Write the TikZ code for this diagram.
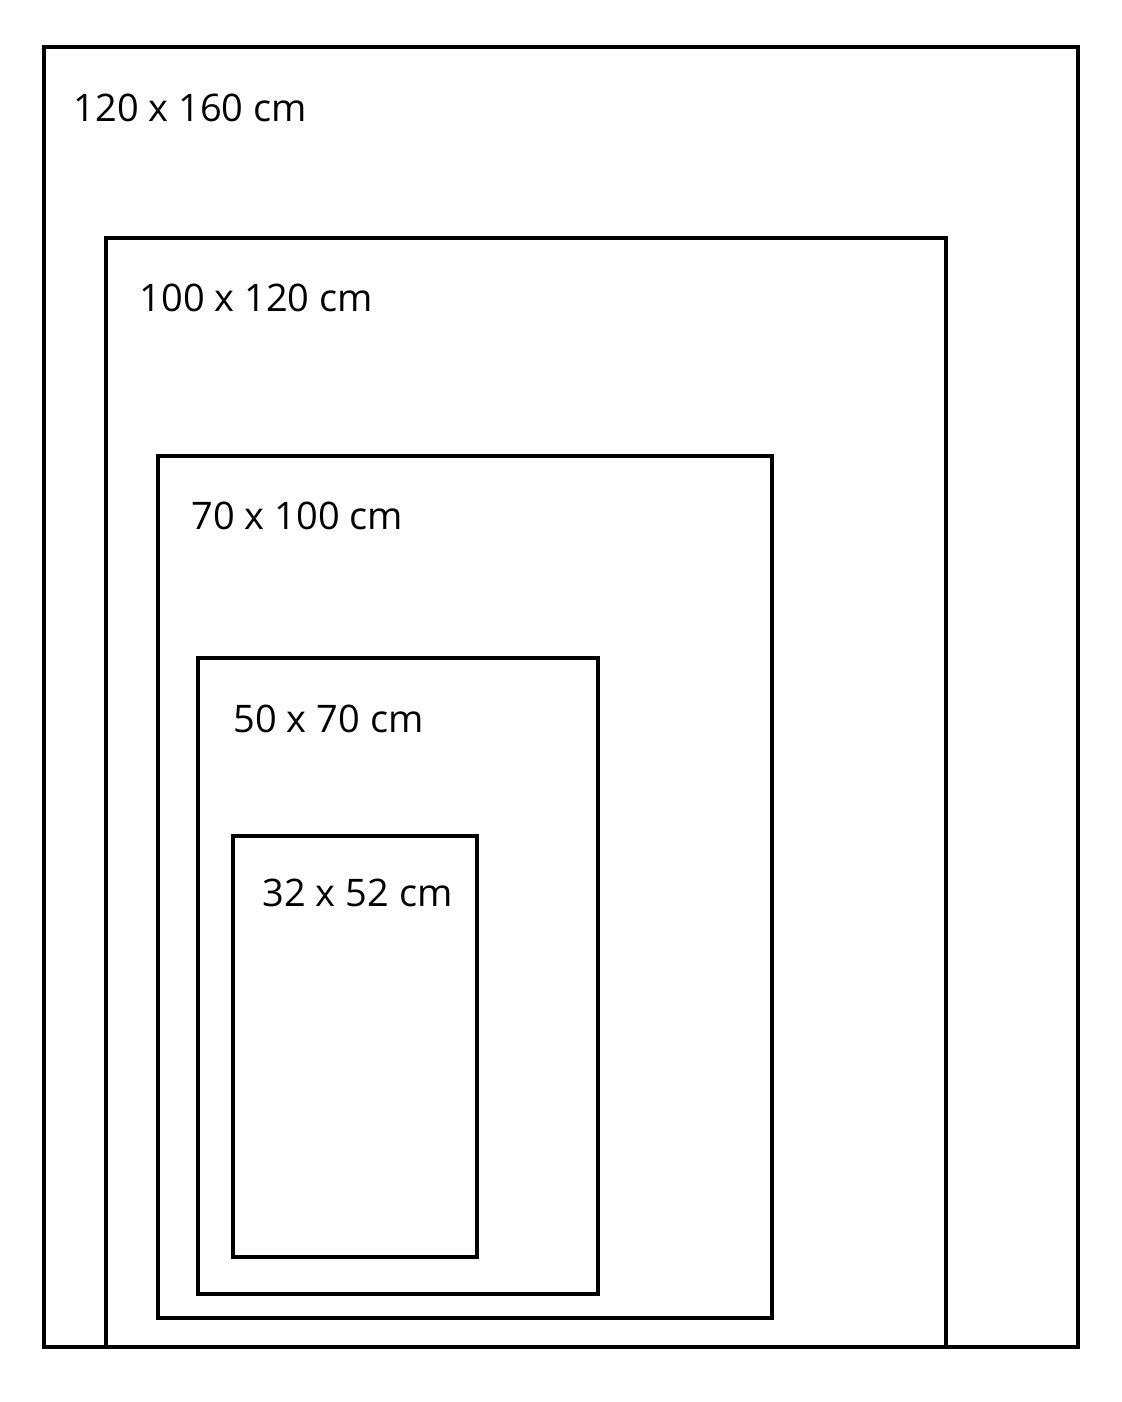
\documentclass[tikz,border=0pt]{standalone}
\usepackage{fontspec}
\setmainfont{Open Sans}
\usetikzlibrary{positioning}

\begin{document}
\begin{tikzpicture}[x=0.01cm,y=-0.01cm]
\tikzstyle{frame} = [draw=black, line width=0.9pt]
\tikzstyle{size} = [anchor=base west, inner sep=0pt, font=\fontsize{10.8}{13}\selectfont]
\useasboundingbox (0,0) rectangle (1122,1402);
% frames, largest first
\draw [frame] (44,47) rectangle (1078,1347);
\draw [frame] (106,238) rectangle (946,1347);
\draw [frame] (158,456) rectangle (772,1318);
\draw [frame] (198,658) rectangle (598,1294);
\draw [frame] (233,836) rectangle (477,1257);
% labels
\node [size] (s120) at (73,121) {120 x 160 cm};
\node [size] (s100) at (139,311) {100 x 120 cm};
\node [size] (s70) at (191,529) {70 x 100 cm};
\node [size] (s50) at (233,732) {50 x 70 cm};
\node [size] (s32) at (262,906) {32 x 52 cm};
\end{tikzpicture}
\end{document}
